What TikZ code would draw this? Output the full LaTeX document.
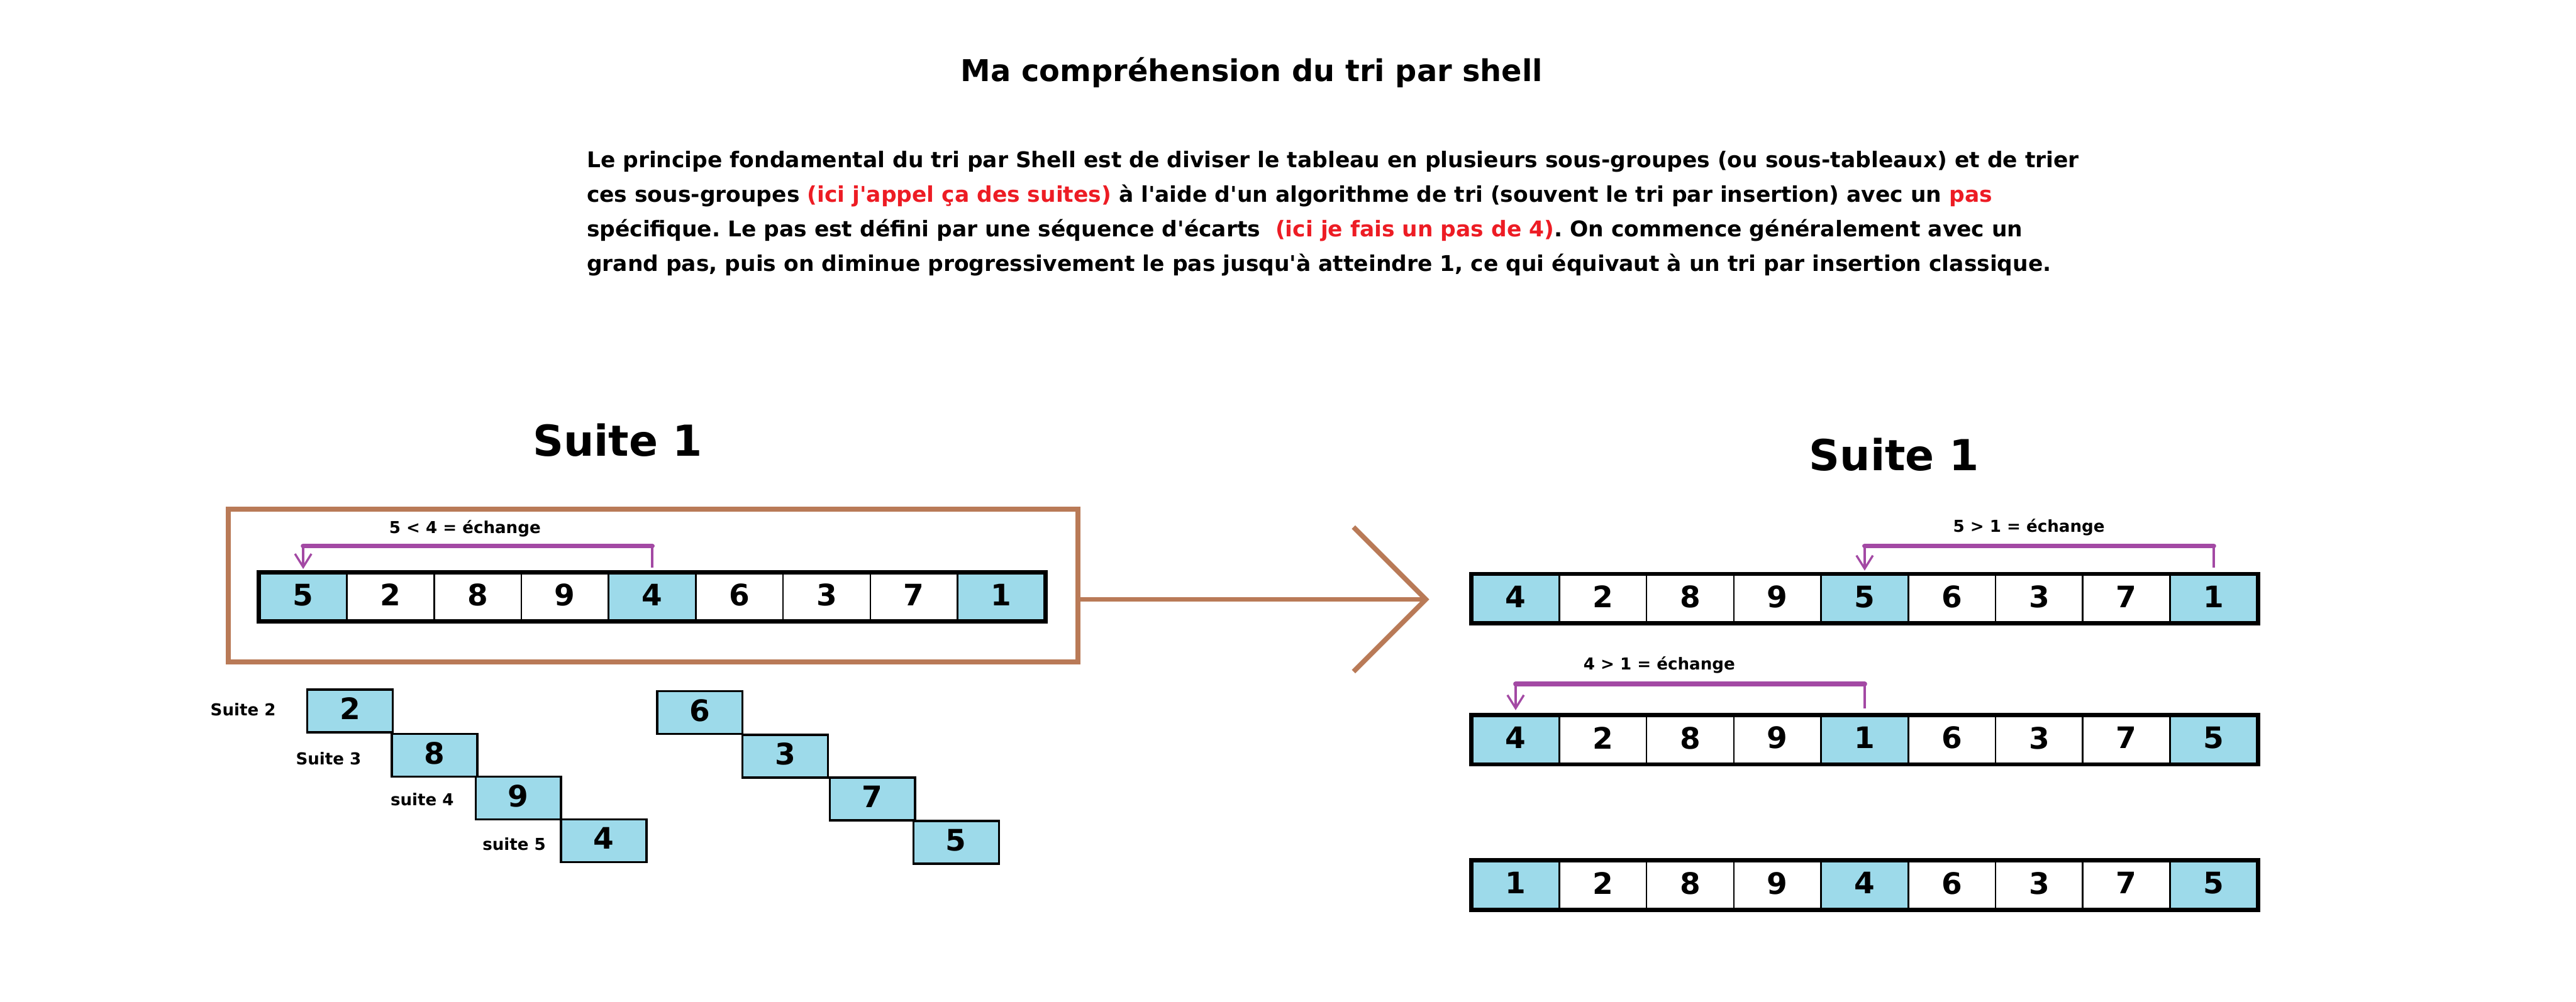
\documentclass[tikz,border=0pt]{standalone}
\usepackage{fontspec}
\setmainfont{DejaVu Sans}[Ligatures=TeXOff]
\frenchspacing
\usetikzlibrary{arrows.meta,calc}
\definecolor{cellblue}{RGB}{157,218,234}
\definecolor{brownline}{RGB}{185,122,87}
\definecolor{purpline}{RGB}{163,73,164}
\definecolor{redtext}{RGB}{237,28,36}
\newcommand{\cellrow}[4]{%
  \foreach \v [count=\i] in {#4} {%
    \pgfmathsetmacro\cx{#2+(\i-0.5)*53.111}%
    \ifnum\i=1 \def\fc{cellblue}\else\ifnum\i=5 \def\fc{cellblue}\else\ifnum\i=9 \def\fc{cellblue}\else\def\fc{white}\fi\fi\fi
    \node[cell,fill=\fc] (#1\i) at (\cx,#3) {\raisebox{2.5pt}{\v}};
  }
  \draw[line width=2.6pt] (#11.north west) rectangle (#19.south east);
}
\begin{document}
\begin{tikzpicture}[x=1pt,y=-1pt,
  cell/.style={draw=black,line width=1pt,minimum width=53.111pt,minimum height=29pt,inner sep=0pt,
    font=\fontsize{18}{18}\selectfont\bfseries},
  stair/.style={draw=black,line width=1.3pt,fill=cellblue,minimum width=52pt,minimum height=26pt,inner sep=0pt,
    font=\fontsize{18}{18}\selectfont\bfseries},
  small/.style={font=\fontsize{10}{12}\selectfont\bfseries,inner sep=0pt},
  para/.style={font=\fontsize{13.2}{15}\selectfont\bfseries,anchor=base west,inner sep=0pt},
  heading/.style={font=\fontsize{26}{30}\selectfont\bfseries,inner sep=0pt},
  swapline/.style={draw=purpline,line width=1.3pt},
  swapbar/.style={draw=purpline,line width=3pt,line cap=round},
  swaptip/.style={-{Straight Barb[length=8pt,width=10pt,line width=1.3pt]}},
]
\useasboundingbox[fill=white] (0,0) rectangle (1568,610);

% title and paragraph
\node[font=\fontsize{18.3}{21}\selectfont\bfseries,inner sep=0pt] (title) at (762,44) {Ma compréhension du tri par shell};
\node[para] (p1) at (357,102) {Le principe fondamental du tri par Shell est de diviser le tableau en plusieurs sous-groupes (ou sous-tableaux) et de trier};
\node[para] (p2) at (357,123) {ces sous-groupes \textcolor{redtext}{(ici j'appel ça des suites)} à l'aide d'un algorithme de tri (souvent le tri par insertion) avec un \textcolor{redtext}{pas}};
\node[para] (p3) at (357,144) {spécifique. Le pas est défini par une séquence d'écarts \ \textcolor{redtext}{(ici je fais un pas de 4)}. On commence généralement avec un};
\node[para] (p4) at (357,165) {grand pas, puis on diminue progressivement le pas jusqu'à atteindre 1, ce qui équivaut à un tri par insertion classique.};

% left part
\node[heading] (hl) at (376,268) {Suite 1};
\node[draw=brownline,line width=3pt,minimum width=517pt,minimum height=93pt,inner sep=0pt] (frame) at (397.5,356.5) {};
\cellrow{L}{158}{363.5}{5,2,8,9,4,6,3,7,1}
\node[small] (lab1) at (283,322) {5 < 4 = échange};
\coordinate (a1) at ($(L5.north)+(0,-16)$);
\coordinate (a2) at ($(L1.north)+(0,-16)$);
\draw[swapline,swaptip] ($(L5.north)+(0,-3)$) -- (a1) -| ($(L1.north)+(0,-2)$);
\draw[swapbar] (a1) -- (a2);

% staircases
\node[stair] (s2) at (213,433) {\raisebox{3pt}{2}};
\node[stair] (s3) at (264.5,460) {\raisebox{3pt}{8}};
\node[stair] (s4) at (315.5,486) {\raisebox{3pt}{9}};
\node[stair] (s5) at (367.5,512) {\raisebox{3pt}{4}};
\node[stair] (t2) at (426,434) {\raisebox{3pt}{6}};
\node[stair] (t3) at (478,460.5) {\raisebox{3pt}{3}};
\node[stair] (t4) at (531,486.5) {\raisebox{3pt}{7}};
\node[stair] (t5) at (582,513) {\raisebox{3pt}{5}};
\node[small] (l2) at (148,432) {Suite 2};
\node[small] (l3) at (200,462) {Suite 3};
\node[small] (l4) at (257,487) {suite 4};
\node[small] (l5) at (313,514) {suite 5};

% big brown arrow
\coordinate (tip) at (870,365);
\draw[brownline,line width=3pt,-{Straight Barb[length=44pt,width=88pt,line width=3pt]}] (frame.east |- tip) -- (tip);

% right part
\node[heading] (hr) at (1153,277) {Suite 1};
\cellrow{A}{896}{364.5}{4,2,8,9,5,6,3,7,1}
\node[small] (lab2) at (1235,321) {5 > 1 = échange};
\coordinate (b1) at ($(A9.north)+(0,-17)$);
\coordinate (b2) at ($(A5.north)+(0,-17)$);
\draw[swapline,swaptip] ($(A9.north)+(0,-4)$) -- (b1) -| ($(A5.north)+(0,-2)$);
\draw[swapbar] (b1) -- (b2);

\cellrow{B}{896}{450.5}{4,2,8,9,1,6,3,7,5}
\node[small] (lab3) at (1010,405) {4 > 1 = échange};
\coordinate (c1) at ($(B5.north)+(0,-19)$);
\coordinate (c2) at ($(B1.north)+(0,-19)$);
\draw[swapline,swaptip] ($(B5.north)+(0,-4)$) -- (c1) -| ($(B1.north)+(0,-3)$);
\draw[swapbar] (c1) -- (c2);

\cellrow{C}{896}{539}{1,2,8,9,4,6,3,7,5}
\end{tikzpicture}
\end{document}
